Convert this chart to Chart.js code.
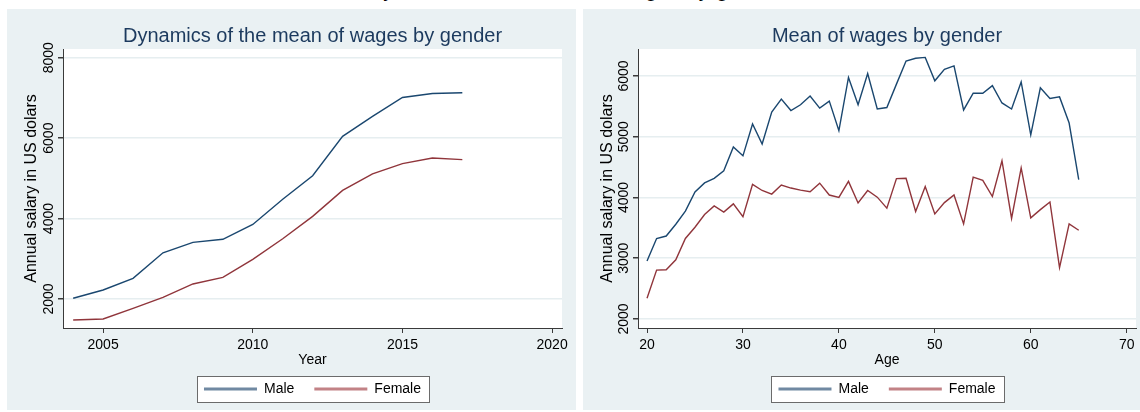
<!DOCTYPE html>
<html>
<head>
<meta charset="utf-8">
<script src="https://cdn.jsdelivr.net/npm/chart.js@4.4.0/dist/chart.umd.min.js"></script>
<style>
  body { margin: 0; width: 1140px; height: 412px; background: #ffffff; position: relative; overflow: hidden; font-family: "Liberation Sans", Arial, sans-serif; }
  #heading { position: absolute; left: 6px; width: 1140px; top: -22px; text-align: center; font-size: 22px; line-height: 22px; color: #000; white-space: nowrap; }
  .panel { position: absolute; top: 9px; height: 401px; background: #eaf1f3; }
  #panel-year { left: 7px; width: 569px; }
  #panel-age { left: 583px; width: 557px; }
</style>
</head>
<body>
<div id="heading">Dynamics of the mean of wages by gender</div>
<div class="panel" id="panel-year"><canvas id="year-chart"></canvas></div>
<div class="panel" id="panel-age"><canvas id="age-chart"></canvas></div>
<script>
// wages by year
var years = [2004, 2005, 2006, 2007, 2008, 2009, 2010, 2011, 2012, 2013, 2014, 2015, 2016, 2017];
var maleByYear = [2020, 2225, 2515, 3150, 3410, 3485, 3855, 4480, 5065, 6045, 6540, 7010, 7110, 7130];
var femaleByYear = [1480, 1505, 1770, 2040, 2375, 2540, 2985, 3500, 4055, 4700, 5110, 5365, 5505, 5465];
var yearTicks = [2005, 2010, 2015, 2020];
var yearWageTicks = [2000, 4000, 6000, 8000];

// wages by age
var ages = [20, 21, 22, 23, 24, 25, 26, 27, 28, 29, 30, 31, 32, 33, 34, 35, 36, 37, 38, 39, 40, 41, 42,
  43, 44, 45, 46, 47, 48, 49, 50, 51, 52, 53, 54, 55, 56, 57, 58, 59, 60, 61, 62, 63, 64, 65];
var maleByAge = [2955, 3325, 3365, 3560, 3775, 4090, 4240, 4315, 4440, 4830, 4685, 5210, 4880, 5405, 5620, 5430,
  5525, 5670, 5470, 5585, 5100, 5975, 5525, 6040, 5455, 5480, 5865, 6245, 6290, 6305, 5920, 6110, 6165, 5440,
  5715, 5715, 5840, 5555, 5455, 5900, 5030, 5805, 5630, 5655, 5225, 4295];
var femaleByAge = [2340, 2805, 2810, 2975, 3325, 3510, 3720, 3860, 3760, 3895, 3685, 4215, 4115, 4055, 4205, 4155,
  4120, 4095, 4235, 4040, 4000, 4265, 3910, 4115, 4005, 3825, 4310, 4315, 3770, 4180, 3730, 3915, 4040, 3565,
  4335, 4280, 4015, 4605, 3655, 4485, 3665, 3800, 3925, 2845, 3565, 3460];
var ageTicks = [20, 30, 40, 50, 60, 70];
var ageWageTicks = [2000, 3000, 4000, 5000, 6000];

var seriesNames = ["Male", "Female"];

// Stata s2color look
var maleColor = "#1a476f";
var femaleColor = "#90353b";
var maleKeyColor = "#7089a2";
var femaleKeyColor = "#c28286";
var axisColor = "#3a3a3a";
var gridColor = "#e6eef0";

Chart.defaults.font.family = '"Liberation Sans", Arial, sans-serif';
Chart.defaults.color = "#000";

// white plot region
var plotBackground = {
  id: "plotBackground",
  beforeDraw: function (chart) {
    var a = chart.chartArea;
    var ctx = chart.ctx;
    ctx.save();
    ctx.fillStyle = "#ffffff";
    ctx.fillRect(a.left, a.top, a.right - a.left, a.bottom - a.top);
    ctx.restore();
  }
};

// framed legend box
var legendFrame = {
  id: "legendFrame",
  beforeDraw: function (chart) {
    var boxes = chart.legend && chart.legend.legendHitBoxes;
    if (!boxes || !boxes.length) return;
    var first = boxes[0];
    var last = boxes[boxes.length - 1];
    var x0 = Math.round(first.left - 7) + 0.5;
    var x1 = Math.round(last.left + last.width + 8) + 0.5;
    var yc = first.top + first.height / 2;
    var y0 = Math.round(yc - 13) + 0.5;
    var ctx = chart.ctx;
    ctx.save();
    ctx.fillStyle = "#ffffff";
    ctx.fillRect(x0, y0, x1 - x0, 26);
    ctx.strokeStyle = "#6b6b6b";
    ctx.lineWidth = 1;
    ctx.strokeRect(x0, y0, x1 - x0, 26);
    ctx.restore();
  }
};

function toPoints(xs, ys) {
  return xs.map(function (x, i) { return { x: x, y: ys[i] }; });
}

function wageChart(canvasId, cfg) {
  var ctx = document.getElementById(canvasId).getContext("2d");
  return new Chart(ctx, {
    type: "line",
    data: {
      datasets: [
        {
          label: seriesNames[0],
          data: toPoints(cfg.xs, cfg.male),
          borderColor: maleColor,
          backgroundColor: maleKeyColor,
          borderWidth: 1.4,
          pointRadius: 0,
          tension: 0
        },
        {
          label: seriesNames[1],
          data: toPoints(cfg.xs, cfg.female),
          borderColor: femaleColor,
          backgroundColor: femaleKeyColor,
          borderWidth: 1.4,
          pointRadius: 0,
          tension: 0
        }
      ]
    },
    options: {
      responsive: true,
      maintainAspectRatio: false,
      animation: false,
      layout: { padding: { left: 0, right: cfg.padRight, top: 0, bottom: 4 } },
      plugins: {
        title: {
          display: true,
          fullSize: false,
          text: cfg.title,
          color: "#1c3a5e",
          font: { size: 20, weight: "normal" },
          padding: { top: 15, bottom: 1 }
        },
        legend: {
          position: "bottom",
          fullSize: false,
          maxHeight: 44,
          labels: {
            boxWidth: 53,
            boxHeight: 3,
            padding: 20,
            color: "#000",
            font: { size: 14 },
            generateLabels: function (chart) {
              var items = Chart.defaults.plugins.legend.labels.generateLabels(chart);
              items.forEach(function (it) {
                it.strokeStyle = it.fillStyle;
                it.lineWidth = 0;
              });
              return items;
            }
          }
        },
        tooltip: { enabled: false }
      },
      scales: {
        x: {
          type: "linear",
          min: cfg.xMin,
          max: cfg.xMax,
          afterBuildTicks: function (scale) {
            scale.ticks = cfg.xTicks.map(function (v) { return { value: v }; });
          },
          // fixed band: tick labels, then the axis title sitting on the legend
          afterFit: function (scale) { scale.height = 34; },
          grid: { drawOnChartArea: false, tickLength: 5, tickColor: axisColor },
          border: { color: axisColor, width: 1 },
          ticks: {
            maxRotation: 0,
            padding: 4,
            color: "#000",
            font: { size: 14 },
            callback: function (v) { return String(v); }
          },
          title: {
            display: true,
            text: cfg.xTitle,
            color: "#000",
            font: { size: 14, lineHeight: "4px" },
            padding: 0
          }
        },
        y: {
          min: cfg.yMin,
          max: cfg.yMax,
          afterBuildTicks: function (scale) {
            scale.ticks = cfg.yTicks.map(function (v) { return { value: v }; });
          },
          afterFit: function (scale) { scale.width = cfg.yWidth; },
          grid: { color: gridColor, lineWidth: 1.5, tickLength: 5, tickColor: axisColor },
          border: { color: axisColor, width: 1 },
          ticks: {
            minRotation: 90,
            maxRotation: 90,
            crossAlign: "center",
            padding: -7,
            color: "#000",
            font: { size: 14 },
            callback: function (v) { return String(v); }
          },
          title: {
            display: true,
            text: "Annual salary in US dolars",
            color: "#000",
            font: { size: 16 },
            padding: { top: 15, bottom: 0 }
          }
        }
      }
    },
    plugins: [plotBackground, legendFrame]
  });
}

// left: mean wage over the years
wageChart("year-chart", {
  title: "Dynamics of the mean of wages by gender",
  xs: years, male: maleByYear, female: femaleByYear,
  xMin: 2003.66, xMax: 2020.33, xTicks: yearTicks, xTitle: "Year",
  yMin: 1280, yMax: 8216, yTicks: yearWageTicks,
  yWidth: 56, padRight: 14
});

// right: mean wage by age
wageChart("age-chart", {
  title: "Mean of wages by gender",
  xs: ages, male: maleByAge, female: femaleByAge,
  xMin: 19.06, xMax: 70.97, xTicks: ageTicks, xTitle: "Age",
  yMin: 1852, yMax: 6443, yTicks: ageWageTicks,
  yWidth: 55, padRight: 4
});
</script>
</body>
</html>
